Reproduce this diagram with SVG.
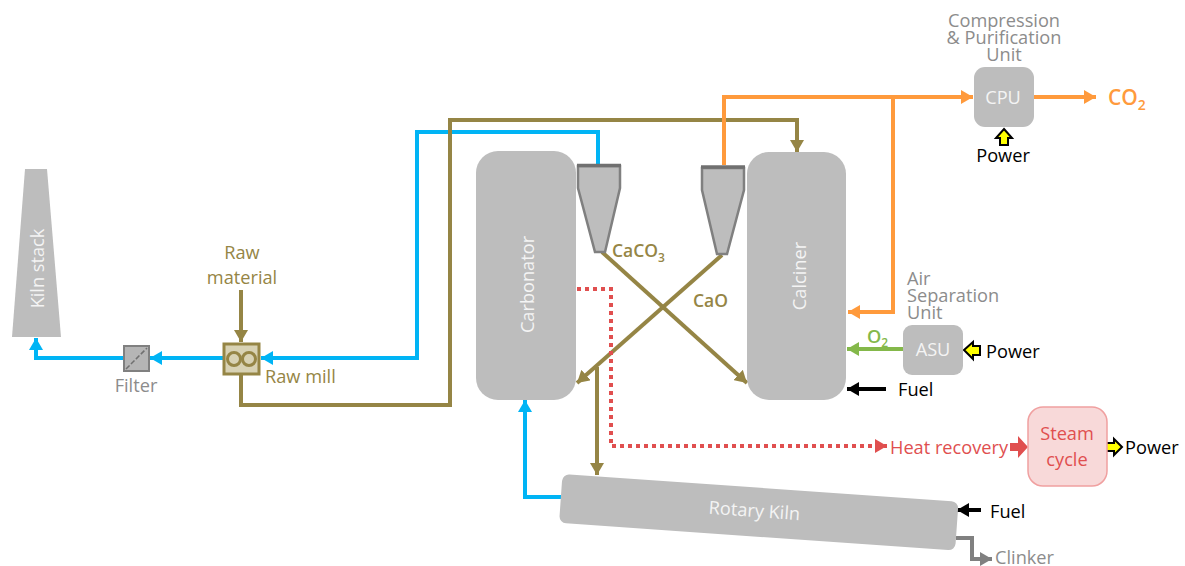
<svg xmlns="http://www.w3.org/2000/svg" width="1185" height="566" viewBox="0 0 1185 566">
<style>
text{font-family:"Open Sans","Liberation Sans",sans-serif;font-size:18.2px;font-weight:400}
.m{text-anchor:middle}
.w{fill:#f4f4f4}
.g{fill:#8c8c8c}
.o{fill:#958545}
.k{fill:#000}
.box{fill:#bdbdbd}
.c{fill:none;stroke-width:4;stroke-linejoin:miter}
.blue{stroke:#00b4f5}.olive{stroke:#958545}.orange{stroke:#ff9a3c}
.cy{fill:#bdbdbd;stroke:#808080;stroke-width:2.500}
.pw{fill:#ffff00;stroke:#000;stroke-width:2}
.b{font-weight:600}
</style>
<defs>
<marker id="aB" markerUnits="userSpaceOnUse" markerWidth="14" markerHeight="14" refX="12" refY="7" orient="auto"><path d="M0 0L12 7L0 14z" fill="#00b4f5"/></marker>
<marker id="aO" markerUnits="userSpaceOnUse" markerWidth="14" markerHeight="14" refX="12" refY="7" orient="auto"><path d="M0 0L12 7L0 14z" fill="#958545"/></marker>
<marker id="aR" markerUnits="userSpaceOnUse" markerWidth="14" markerHeight="14" refX="12" refY="7" orient="auto"><path d="M0 0L12 7L0 14z" fill="#ff9a3c"/></marker>
<marker id="aG" markerUnits="userSpaceOnUse" markerWidth="14" markerHeight="14" refX="12" refY="7" orient="auto"><path d="M0 0L12 7L0 14z" fill="#84b84a"/></marker>
<marker id="aK" markerUnits="userSpaceOnUse" markerWidth="14" markerHeight="14" refX="12" refY="7" orient="auto"><path d="M0 0L12 7L0 14z" fill="#000"/></marker>
<marker id="aE" markerUnits="userSpaceOnUse" markerWidth="14" markerHeight="14" refX="12" refY="7" orient="auto"><path d="M0 0L12 7L0 14z" fill="#e04f4f"/></marker>
<marker id="aY" markerUnits="userSpaceOnUse" markerWidth="14" markerHeight="14" refX="12" refY="7" orient="auto"><path d="M0 0L12 7L0 14z" fill="#808080"/></marker>
</defs>
<g id="connectors">
<path class="c blue" d="M124 358H36V338" marker-end="url(#aB)"/>
<path class="c blue" d="M224 358H150" marker-end="url(#aB)"/>
<path class="c blue" d="M598 165V132H417V358H261" marker-end="url(#aB)"/>
<path class="c blue" d="M561 497H525V400" marker-end="url(#aB)"/>
<path class="c olive" d="M241 290V342" marker-end="url(#aO)"/>
<path class="c olive" d="M241 375V405H450V120H797V152" marker-end="url(#aO)"/>
<path class="c olive" d="M602 252L747 383" marker-end="url(#aO)"/>
<path class="c olive" d="M722 255L577 383" marker-end="url(#aO)"/>
<path class="c olive" d="M597 367V475" marker-end="url(#aO)"/>
<path class="c orange" d="M724 165V97H973" marker-end="url(#aR)"/>
<path class="c orange" d="M893 97V312H848" marker-end="url(#aR)"/>
<path class="c orange" d="M1033 97H1096" marker-end="url(#aR)"/>
<path class="c" stroke="#84b84a" d="M904 349H847" marker-end="url(#aG)"/>
<path class="c" stroke="#000" d="M886 389H847" marker-end="url(#aK)"/>
<path class="c" stroke="#000" d="M981 510H957" marker-end="url(#aK)"/>
<path class="c" stroke="#e04f4f" stroke-dasharray="4 4" d="M577 289H611V446H887" marker-end="url(#aE)"/>
<path class="c" stroke="#808080" d="M956 538H972V559H992" marker-end="url(#aY)"/>
<path fill="#e04f4f" d="M1010 443H1018V436L1028 447L1018 458V451H1010z"/>
<path class="pw" d="M1004 129L1012 138H1008V145H1000V138H996z"/>
<path class="pw" d="M964 350L973 342V346H980V355H973V359z"/>
<path class="pw" d="M1122 447L1114 439V443H1106V451H1114V455z"/>
</g>
<g id="kiln-stack"><path class="box" d="M25 169H47L61 337H12z"/><text class="w" transform="translate(44 268.500) rotate(-90)" text-anchor="middle">Kiln stack</text></g>
<g id="filter"><rect x="124" y="346" width="25" height="25" fill="#b5b5b5" stroke="#808080" stroke-width="2"/><path d="M126 369L147 348" stroke="#707070" stroke-dasharray="5 2" stroke-width="1.500"/><text class="g m" x="136" y="392">Filter</text></g>
<g id="raw-mill"><rect x="224" y="344" width="35" height="30" fill="#d8d2b4" stroke="#958545" stroke-width="3"/><circle cx="234" cy="359" r="6.500" fill="none" stroke="#958545" stroke-width="3"/><circle cx="249" cy="359" r="6.500" fill="none" stroke="#958545" stroke-width="3"/><text class="o" x="265" y="383">Raw mill</text></g>
<g id="raw-material"><text class="o m" x="242" y="259">Raw</text><text class="o m" x="242" y="284">material</text></g>
<g id="carbonator"><rect class="box" x="476" y="151" width="100" height="249" rx="22"/><text class="w" transform="translate(534 284.500) rotate(-90)" text-anchor="middle">Carbonator</text></g>
<g id="calciner"><rect class="box" x="747" y="152" width="99" height="248" rx="22"/><text class="w" transform="translate(806 276) rotate(-90)" text-anchor="middle">Calciner</text></g>
<g id="cyclone-left"><path class="cy" d="M578 166H620V188L605 252H595L578 188z"/><path d="M577 165.500H621" stroke="#707070" stroke-width="3.500"/></g>
<g id="cyclone-right"><path class="cy" d="M702 168H744V190L727 254H717L702 190z"/><path d="M701 167H745" stroke="#707070" stroke-width="3.500"/></g>
<g id="label-caco3"><text x="612" y="257" fill="#958545" class="b" style="font-size:17.500px">CaCO<tspan style="font-size:12px" dy="5">3</tspan></text></g>
<g id="label-cao"><text x="693" y="307" fill="#958545" class="b" style="font-size:17.500px">CaO</text></g>
<g id="cpu"><rect class="box" x="974" y="67" width="60" height="60" rx="11"/><text class="w m" x="1003" y="104">CPU</text><text class="g m" x="1004" y="27">Compression</text><text class="g m" x="1004" y="44">&amp; Purification</text><text class="g m" x="1004" y="61">Unit</text><text class="k m" x="1003" y="162">Power</text></g>
<g id="co2"><text x="1108" y="105" fill="#ff9a3c" class="b" style="font-size:21px">CO<tspan style="font-size:14px" dy="5">2</tspan></text></g>
<g id="asu"><rect class="box" x="903" y="325" width="60" height="50" rx="9"/><text class="w m" x="933" y="356">ASU</text><text class="g" x="907" y="285">Air</text><text class="g" x="907" y="302">Separation</text><text class="g" x="907" y="319">Unit</text><text class="k" x="986" y="358">Power</text><text x="867" y="343" fill="#84b84a" class="b">O<tspan style="font-size:12px" dy="4">2</tspan></text></g>
<g id="calciner-fuel"><text class="k" x="898" y="396">Fuel</text></g>
<g id="heat-recovery"><text x="890" y="454" fill="#e04f4f">Heat recovery</text></g>
<g id="steam-cycle"><rect x="1028" y="407" width="79" height="79" rx="15" fill="#f8d9d9" stroke="#f0a0a0" stroke-width="1.500"/><text class="m" x="1067" y="440" fill="#e04f4f">Steam</text><text class="m" x="1067" y="466" fill="#e04f4f">cycle</text><text class="k" x="1125" y="454">Power</text></g>
<g id="rotary-kiln"><rect class="box" x="0" y="0" width="397" height="49" rx="7" transform="translate(562.500 474) rotate(4)"/><text class="w m" transform="translate(754 517) rotate(4)">Rotary Kiln</text><text class="k" x="990" y="518">Fuel</text><text class="g" x="995" y="564">Clinker</text></g>
</svg>
